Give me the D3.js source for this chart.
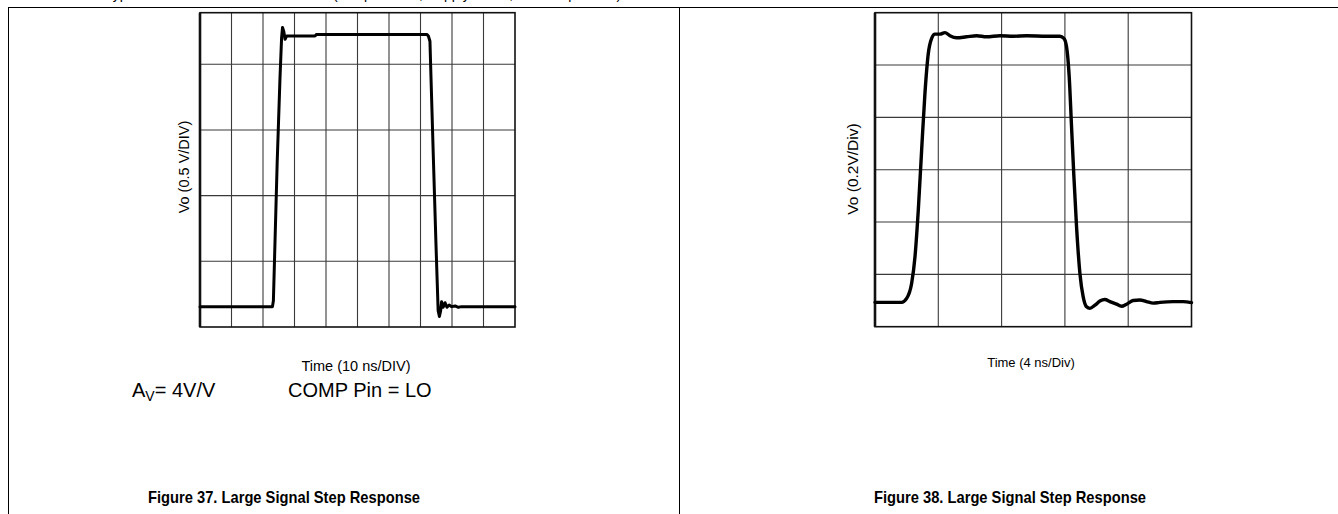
<!DOCTYPE html>
<html>
<head>
<meta charset="utf-8">
<script src="https://cdn.jsdelivr.net/npm/d3@7"></script>
<style>
  body { margin: 0; background: #fff; }
  svg { display: block; font-family: "Liberation Sans", Arial, Helvetica, sans-serif; }
</style>
</head>
<body>
<svg id="chart" width="1338" height="514"></svg>
<script>
// DATA
// Figure 37 - scope trace, time in divisions (10 ns/DIV), Vo in divisions (0.5 V/DIV)
const fig37Time = [0, 2.30, 2.33, 2.45, 2.54, 2.59, 2.62, 2.66, 2.70, 2.75, 3.65, 3.70, 7.20, 7.25, 7.30, 7.33, 7.41, 7.49, 7.56, 7.60, 7.64, 7.67, 7.72, 7.78, 7.84, 7.91, 7.99, 8.10, 8.20, 8.31, 10];
const fig37Vo   = [0.31, 0.31, 0.40, 2.50, 3.80, 4.40, 4.56, 4.50, 4.38, 4.43, 4.43, 4.455, 4.455, 4.43, 4.35, 3.85, 2.55, 1.28, 0.25, 0.16, 0.25, 0.385, 0.30, 0.37, 0.30, 0.335, 0.31, 0.32, 0.30, 0.31, 0.31];
const fig37XTicks = [1, 2, 3, 4, 5, 6, 7, 8, 9];
const fig37YTicks = [1, 2, 3, 4];

// Figure 38 - scope trace, time in divisions (4 ns/Div), Vo in divisions (0.2V/Div)
const fig38Time = [0, 0.42, 0.50, 0.579, 0.632, 0.684, 0.737, 0.789, 0.842, 0.895, 0.947, 1.026, 1.105, 1.184, 1.289, 1.447, 1.605, 1.763, 1.974, 2.184, 2.395, 2.711, 2.921, 2.984, 3.026, 3.068, 3.105, 3.142, 3.184, 3.237, 3.289, 3.342, 3.395, 3.474, 3.553, 3.632, 3.711, 3.816, 3.895, 3.974, 4.079, 4.184, 4.289, 4.395, 4.50, 4.711, 4.868, 5];
const fig38Vo   = [0.465, 0.465, 0.54, 0.83, 1.34, 2.23, 3.38, 4.46, 5.22, 5.51, 5.59, 5.59, 5.62, 5.56, 5.52, 5.54, 5.56, 5.54, 5.56, 5.55, 5.56, 5.55, 5.55, 5.51, 5.35, 4.78, 3.82, 2.87, 1.91, 1.02, 0.57, 0.38, 0.35, 0.41, 0.49, 0.52, 0.48, 0.43, 0.39, 0.43, 0.50, 0.51, 0.48, 0.45, 0.465, 0.48, 0.48, 0.46];
const fig38XTicks = [1, 2, 3, 4];
const fig38YTicks = [1, 2, 3, 4, 5];

// CHART
let svg = d3.select('#chart');

// page frame (datasheet table lines)
svg.append('line').attr('x1', 8).attr('y1', 7.5).attr('x2', 1338).attr('y2', 7.5)
    .attr('stroke', '#000').attr('stroke-width', 1);
svg.append('line').attr('x1', 8.5).attr('y1', 7).attr('x2', 8.5).attr('y2', 514)
    .attr('stroke', '#000').attr('stroke-width', 1);
svg.append('line').attr('x1', 679.5).attr('y1', 7).attr('x2', 679.5).attr('y2', 514)
    .attr('stroke', '#000').attr('stroke-width', 1);

// header text cut off by the page top
svg.append('text')
    .attr('x', 105).attr('y', -1)
    .attr('font-size', 14)
    .text('Typical Performance Characteristics (Temp = 25°C, Supply = ±5V, unless specified)');

function drawScope(opts) {
    let g = svg.append('g');
    let x = d3.scaleLinear().domain(opts.xDomain).range([opts.left, opts.right]);
    let y = d3.scaleLinear().domain(opts.yDomain).range([opts.bottom, opts.top]);

    g.selectAll('.vgrid').data(opts.xTicks).enter().append('line')
        .attr('x1', d => x(d)).attr('x2', d => x(d))
        .attr('y1', opts.top).attr('y2', opts.bottom)
        .attr('stroke', '#3a3a3a').attr('stroke-width', 1.1);
    g.selectAll('.hgrid').data(opts.yTicks).enter().append('line')
        .attr('y1', d => y(d)).attr('y2', d => y(d))
        .attr('x1', opts.left).attr('x2', opts.right)
        .attr('stroke', '#3a3a3a').attr('stroke-width', 1.1);

    g.append('rect')
        .attr('x', opts.left).attr('y', opts.top)
        .attr('width', opts.right - opts.left).attr('height', opts.bottom - opts.top)
        .attr('fill', 'none').attr('stroke', '#111').attr('stroke-width', 1.6);
    g.append('line')
        .attr('x1', opts.left).attr('x2', opts.left)
        .attr('y1', opts.top).attr('y2', opts.bottom)
        .attr('stroke', '#111').attr('stroke-width', 2.6);

    let line = d3.line()
        .x(d => x(d[0]))
        .y(d => y(d[1]))
        .curve(opts.curve);
    g.append('path')
        .datum(d3.zip(opts.time, opts.vo))
        .attr('d', line)
        .attr('fill', 'none')
        .attr('stroke', '#000')
        .attr('stroke-width', opts.width)
        .attr('stroke-linejoin', 'round')
        .attr('stroke-linecap', 'round');
}

drawScope({
    left: 200, right: 515, top: 12.7, bottom: 327,
    xDomain: [0, 10], yDomain: [0, 4.785],
    xTicks: fig37XTicks, yTicks: fig37YTicks,
    time: fig37Time, vo: fig37Vo,
    curve: d3.curveLinear, width: 3
});

drawScope({
    left: 875, right: 1191.5, top: 12.7, bottom: 326.7,
    xDomain: [0, 5], yDomain: [0, 6],
    xTicks: fig38XTicks, yTicks: fig38YTicks,
    time: fig38Time, vo: fig38Vo,
    curve: d3.curveMonotoneX, width: 3.4
});

// labels - Figure 37
svg.append('text')
    .attr('transform', 'translate(189,167) rotate(-90)')
    .attr('text-anchor', 'middle').attr('font-size', 14.5)
    .text('Vo (0.5 V/DIV)');
svg.append('text')
    .attr('x', 356).attr('y', 371)
    .attr('text-anchor', 'middle').attr('font-size', 14.5)
    .text('Time (10 ns/DIV)');

let av = svg.append('text').attr('x', 132).attr('y', 397).attr('font-size', 20);
av.append('tspan').text('A');
av.append('tspan').attr('font-size', 14).attr('dy', 4).text('V');
av.append('tspan').attr('dy', -4).text('= 4V/V');

svg.append('text')
    .attr('x', 288).attr('y', 397).attr('font-size', 20)
    .text('COMP Pin = LO');

svg.append('text')
    .attr('x', 284).attr('y', 503)
    .attr('text-anchor', 'middle').attr('font-size', 17).attr('font-weight', 'bold')
    .attr('textLength', 272).attr('lengthAdjust', 'spacingAndGlyphs')
    .text('Figure 37. Large Signal Step Response');

// labels - Figure 38
svg.append('text')
    .attr('transform', 'translate(858,169) rotate(-90)')
    .attr('text-anchor', 'middle').attr('font-size', 15.5)
    .text('Vo (0.2V/Div)');
svg.append('text')
    .attr('x', 1031).attr('y', 367)
    .attr('text-anchor', 'middle').attr('font-size', 13)
    .text('Time (4 ns/Div)');

svg.append('text')
    .attr('x', 1010).attr('y', 503)
    .attr('text-anchor', 'middle').attr('font-size', 17).attr('font-weight', 'bold')
    .attr('textLength', 272).attr('lengthAdjust', 'spacingAndGlyphs')
    .text('Figure 38. Large Signal Step Response');
</script>
</body>
</html>
